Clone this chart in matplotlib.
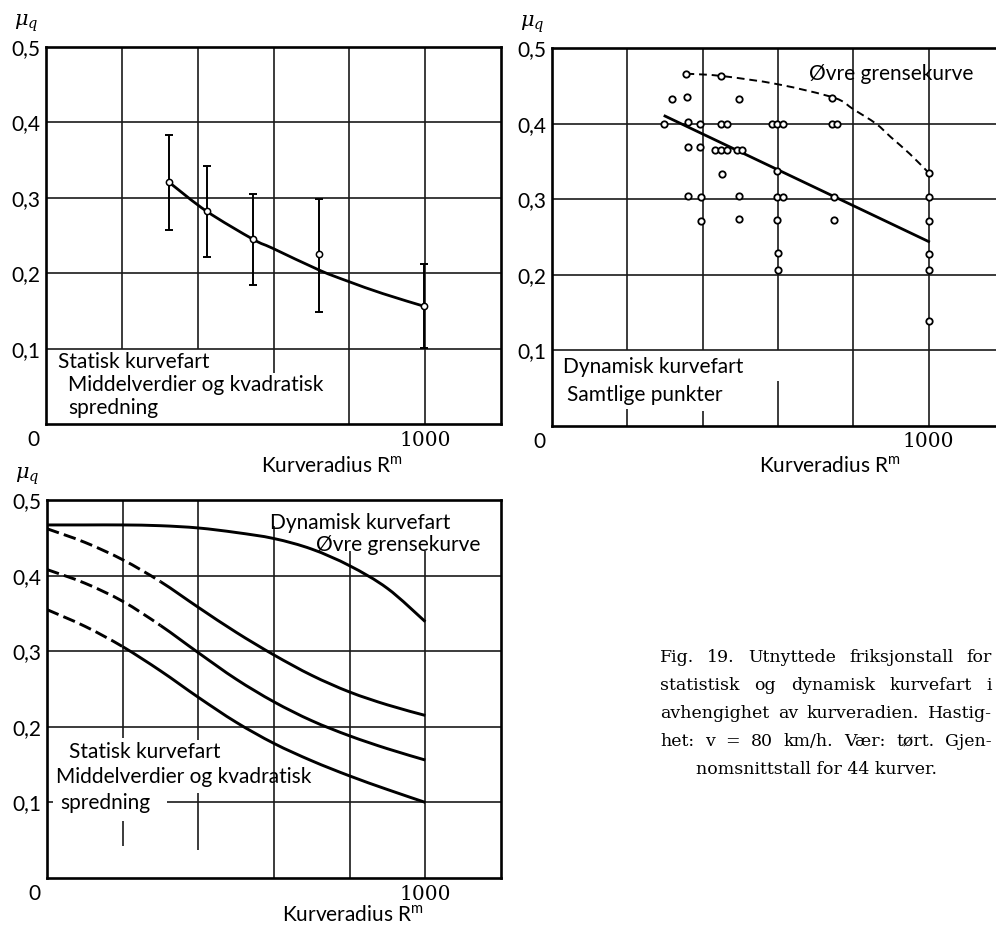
import numpy as np
import matplotlib.pyplot as plt
from matplotlib.path import Path
from matplotlib.patches import PathPatch

plt.rcParams['font.family'] = ['Lato', 'DejaVu Sans']
plt.rcParams['mathtext.fontset'] = 'custom'
plt.rcParams['mathtext.rm'] = 'Lato'
plt.rcParams['mathtext.it'] = 'DejaVu Serif:italic'

# --- Statisk kurvefart: middelverdier og kvadratisk spredning
r_stat = [324, 424, 546, 721, 998]
mu_stat = [0.321, 0.282, 0.245, 0.225, 0.156]
mu_stat_hi = [0.383, 0.342, 0.305, 0.298, 0.212]
mu_stat_lo = [0.257, 0.221, 0.185, 0.149, 0.101]
r_stat_kurve = [331, 424, 546, 598, 721, 798, 888, 998]
mu_stat_kurve = [0.318, 0.282, 0.245, 0.233, 0.204, 0.189, 0.173, 0.156]

# --- Dynamisk kurvefart: samtlige punkter
r_dyn = [298, 318, 357, 358, 360, 360, 360,
         393, 393, 395, 396,
         433, 448, 464, 448, 464, 451, 449,
         490, 505, 497, 497, 497,
         583, 598, 613, 598, 598, 613, 598, 600, 600,
         743, 743, 756, 750, 750,
         1002, 1002, 1002, 1002, 1002, 1002]
mu_dyn = [0.399, 0.433, 0.466, 0.435, 0.402, 0.369, 0.304,
          0.399, 0.369, 0.303, 0.271,
          0.365, 0.365, 0.365, 0.400, 0.400, 0.333, 0.463,
          0.365, 0.365, 0.433, 0.304, 0.274,
          0.400, 0.400, 0.400, 0.337, 0.303, 0.303, 0.272, 0.229, 0.206,
          0.434, 0.400, 0.400, 0.303, 0.272,
          0.335, 0.303, 0.271, 0.228, 0.207, 0.139]
r_regr = [300, 1000]
mu_regr = [0.410, 0.244]
r_grense = [357, 450, 600, 750, 800, 860, 900, 950, 1000]
mu_grense = [0.466, 0.463, 0.452, 0.434, 0.419, 0.400, 0.382, 0.360, 0.335]

# --- Sammenstilling
r_kurver = [0, 100, 200, 300, 400, 500, 600, 700, 800, 900, 1000]
mu_ovre = [0.467, 0.467, 0.467, 0.466, 0.463, 0.457, 0.449, 0.435, 0.413, 0.383, 0.339]
mu_stat_pluss = [0.462, 0.444, 0.421, 0.392, 0.358, 0.325, 0.295, 0.268, 0.246, 0.229, 0.215]
mu_stat_mid = [0.408, 0.390, 0.366, 0.334, 0.298, 0.263, 0.233, 0.208, 0.188, 0.171, 0.156]
mu_stat_minus = [0.355, 0.333, 0.306, 0.274, 0.239, 0.206, 0.178, 0.155, 0.135, 0.117, 0.100]
# antall punkter (fra venstre) som er stiplet
n_stiplet = [4, 4, 3]

yticks = [0.1, 0.2, 0.3, 0.4, 0.5]
ytick_labels = ['0,1', '0,2', '0,3', '0,4', '0,5']

W, H = 996, 926
FS = 15
fig = plt.figure(figsize=(W / 100, H / 100), dpi=100)


def px_axes(left, top, right, bottom):
    return fig.add_axes([left / W, 1 - bottom / H, (right - left) / W, (bottom - top) / H])


def glatt(ax, x, y, fra=0, til=None, **kw):
    # jevn kurve (Catmull-Rom som Bezier) gjennom punktene
    p = np.column_stack([x, y]).astype(float)
    n = len(p)
    til = n - 1 if til is None else til
    verts, codes = [p[fra]], [Path.MOVETO]
    for i in range(fra, til):
        a = p[max(i - 1, 0)]
        d = p[min(i + 2, n - 1)]
        c1 = p[i] + (p[i + 1] - a) / 6
        c2 = p[i + 1] - (d - p[i]) / 6
        verts += [c1, c2, p[i + 1]]
        codes += [Path.CURVE4] * 3
    ax.add_patch(PathPatch(Path(verts, codes), fill=False, **kw))


def oppsett(ax, xmax, vlinjer, hlinjer, label_x, label_dy):
    ax.set_xlim(0, xmax)
    ax.set_ylim(0, 0.5)
    for x, y0, y1 in vlinjer:
        ax.plot([x, x], [y0, y1], color='#1a1a1a', lw=1.2, solid_capstyle='butt')
    for y, x0, x1 in hlinjer:
        ax.plot([x0, x1], [y, y], color='#1a1a1a', lw=1.2, solid_capstyle='butt')
    ax.set_yticks(yticks)
    ax.set_yticklabels(ytick_labels)
    ax.set_xticks([])
    ax.tick_params(axis='y', length=0, pad=4, labelsize=FS)
    for s in ax.spines.values():
        s.set_linewidth(1.9)
    ax.annotate(r'$\mu_q$', (0, 0.5), xytext=(-20, 24), textcoords='offset pixels',
                ha='center', va='center', fontsize=FS)
    ax.annotate('0', (0, 0), xytext=(-13, -16), textcoords='offset pixels',
                ha='center', va='center', fontsize=FS)
    ax.annotate('1000', (1000, 0), xytext=(0, -16), textcoords='offset pixels',
                ha='center', va='center', fontsize=14.5, family='DejaVu Serif')
    ax.annotate(r'Kurveradius R$^{\mathrm{m}}$', (label_x, 0), xytext=(0, -label_dy),
                textcoords='offset pixels', ha='center', va='center', fontsize=FS)


# 1. Statisk kurvefart
ax1 = px_axes(46, 47, 501, 424)
oppsett(ax1, 1200,
        [(200, 0.1, 0.5), (400, 0.1, 0.5), (600, 0.068, 0.5), (800, 0, 0.5), (1000, 0, 0.5)],
        [(0.1, 0, 1200), (0.2, 0, 1200), (0.3, 0, 1200), (0.4, 0, 1200)],
        753, 42)
err = [np.array(mu_stat) - np.array(mu_stat_lo), np.array(mu_stat_hi) - np.array(mu_stat)]
ax1.errorbar(r_stat, mu_stat, yerr=err, fmt='none', ecolor='k', elinewidth=1.4,
             capsize=3, capthick=1.4, zorder=3)
glatt(ax1, r_stat_kurve, mu_stat_kurve, color='k', lw=2.0, zorder=4)
ax1.plot(r_stat, mu_stat, 'o', ms=4.5, mfc='white', mec='k', mew=1.1, zorder=5)
ax1.text(32, 0.082, 'Statisk kurvefart', fontsize=FS, va='center')
ax1.text(58, 0.052, 'Middelverdier og kvadratisk', fontsize=FS, va='center')
ax1.text(58, 0.021, 'spredning', fontsize=FS, va='center')

# 2. Dynamisk kurvefart
ax2 = px_axes(552, 48, 996, 426)
oppsett(ax2, 1179,
        [(200, 0.1, 0.5), (400, 0.1, 0.5), (600, 0.1, 0.5), (800, 0, 0.5), (1000, 0, 0.5),
         (200, 0, 0.022), (400, 0, 0.02), (600, 0, 0.06)],
        [(0.1, 0, 1179), (0.2, 0, 1179), (0.3, 0, 1179), (0.4, 0, 1179)],
        738, 40)
ax2.spines['right'].set_visible(False)
glatt(ax2, r_grense, mu_grense, color='k', lw=1.4, linestyle=(0, (4, 2.5)), zorder=4)
ax2.plot(r_regr, mu_regr, color='k', lw=2.0, zorder=4)
ax2.plot(r_dyn, mu_dyn, 'o', ms=4.6, mfc='white', mec='k', mew=1.3, zorder=5)
ax2.text(683, 0.466, 'Øvre grensekurve', fontsize=FS, va='center')
ax2.text(30, 0.078, 'Dynamisk kurvefart', fontsize=FS, va='center')
ax2.text(40, 0.041, 'Samtlige punkter', fontsize=FS, va='center')

# 3. Sammenstilling
ax3 = px_axes(47, 500, 501, 878)
oppsett(ax3, 1200,
        [(200, 0.185, 0.5), (200, 0.042, 0.075), (400, 0.183, 0.5), (400, 0.037, 0.112),
         (600, 0, 0.466), (800, 0, 0.433), (1000, 0, 0.433)],
        [(0.1, 318, 1200), (0.1, 0, 15), (0.2, 0, 1200), (0.3, 0, 1200), (0.4, 0, 1200)],
        809, 37)
glatt(ax3, r_kurver, mu_ovre, color='k', lw=2.1, zorder=4)
for mu, n in zip([mu_stat_pluss, mu_stat_mid, mu_stat_minus], n_stiplet):
    glatt(ax3, r_kurver, mu, 0, n - 1, color='k', lw=2.1, linestyle=(0, (4.3, 1.8)), zorder=4)
    glatt(ax3, r_kurver, mu, n - 1, None, color='k', lw=2.1, zorder=4)
ax3.text(590, 0.47, 'Dynamisk kurvefart', fontsize=FS, va='center')
ax3.text(712, 0.44, 'Øvre grensekurve', fontsize=FS, va='center')
ax3.text(57, 0.167, 'Statisk kurvefart', fontsize=FS, va='center')
ax3.text(25, 0.133, 'Middelverdier og kvadratisk', fontsize=FS, va='center')
ax3.text(35, 0.099, 'spredning', fontsize=FS, va='center')

# figurtekst, blokkjustert
tekst = ['Fig. 19. Utnyttede friksjonstall for',
         'statistisk og dynamisk kurvefart i',
         'avhengighet av kurveradien. Hastig-',
         'het: v = 80 km/h. Vær: tørt. Gjen-']
renderer = fig.canvas.get_renderer()
x0, x1 = 660, 992
for i, linje in enumerate(tekst):
    y = 1 - (662 + 28 * i) / H
    ord_ = [fig.text(0, y, w, fontsize=12.5, family='DejaVu Serif', va='baseline')
            for w in linje.split(' ')]
    bredder = [t.get_window_extent(renderer).width for t in ord_]
    gap = (x1 - x0 - sum(bredder)) / (len(ord_) - 1)
    x = x0
    for t, b in zip(ord_, bredder):
        t.set_x(x / W)
        x += b + gap
fig.text(816 / W, 1 - 774 / H, 'nomsnittstall for 44 kurver.', fontsize=12.5,
         family='DejaVu Serif', va='baseline', ha='center')

fig.savefig('out.png', dpi=100)
